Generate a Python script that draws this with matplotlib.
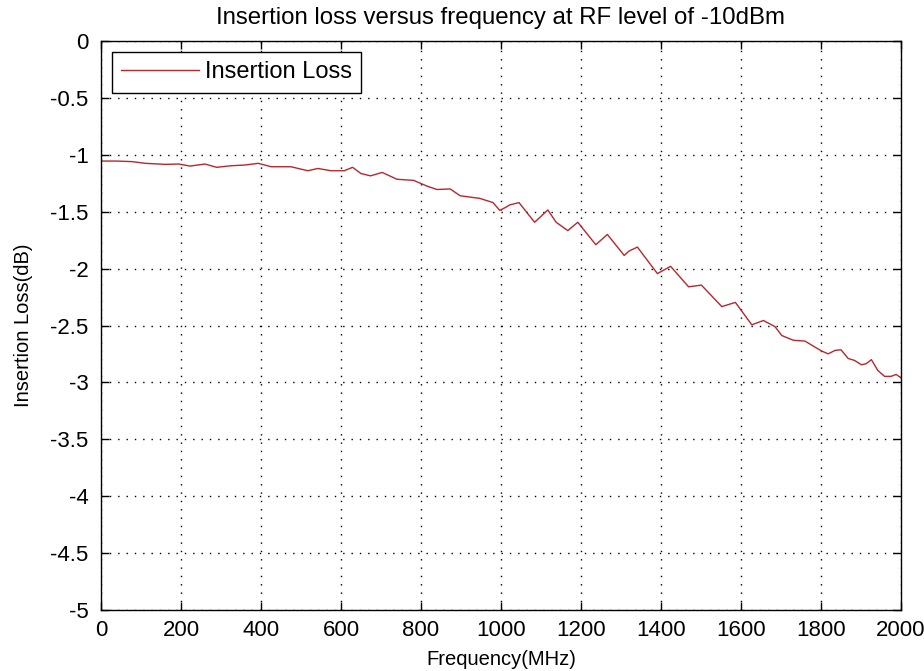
import matplotlib
matplotlib.use("Agg")
import matplotlib.pyplot as plt
from matplotlib import font_manager

# values
freq_mhz = [0, 40, 78, 111, 161, 194, 223, 260, 289, 326, 359, 393, 426, 475,
            517, 542, 575, 608, 629, 650, 674, 703, 740, 782, 815, 840, 873,
            898, 947, 980, 997, 1010, 1022, 1045, 1084, 1117, 1138, 1167, 1192,
            1237, 1266, 1308, 1320, 1341, 1391, 1424, 1469, 1501, 1552, 1586,
            1627, 1656, 1685, 1702, 1731, 1760, 1785, 1802, 1818, 1835, 1850,
            1868, 1884, 1901, 1913, 1926, 1942, 1959, 1975, 1988, 2000]
loss_db = [-1.055, -1.055, -1.06, -1.075, -1.084, -1.081, -1.099, -1.081, -1.11,
           -1.096, -1.09, -1.075, -1.105, -1.105, -1.14, -1.12, -1.14, -1.14,
           -1.11, -1.165, -1.185, -1.155, -1.215, -1.225, -1.275, -1.305, -1.30,
           -1.36, -1.383, -1.42, -1.488, -1.465, -1.44, -1.42, -1.593, -1.485,
           -1.593, -1.666, -1.593, -1.79, -1.70, -1.884, -1.846, -1.811, -2.044,
           -1.98, -2.16, -2.145, -2.334, -2.297, -2.494, -2.456, -2.51, -2.588,
           -2.63, -2.637, -2.69, -2.725, -2.749, -2.719, -2.713, -2.79, -2.807,
           -2.845, -2.836, -2.80, -2.895, -2.947, -2.947, -2.93, -2.96]

x_ticks = list(range(0, 2001, 200))
y_ticks = [0, -0.5, -1, -1.5, -2, -2.5, -3, -3.5, -4, -4.5, -5]
y_labels = ["0", "-0.5", "-1", "-1.5", "-2", "-2.5", "-3", "-3.5", "-4", "-4.5", "-5"]

names = {f.name for f in font_manager.fontManager.ttflist}
fam = [f for f in ["Liberation Sans Narrow", "Liberation Sans", "DejaVu Sans"] if f in names]
plt.rcParams['font.family'] = fam

fig = plt.figure(figsize=(9.24, 6.71), dpi=100)
ax = fig.add_axes([0.1093, 0.0909, 0.8658, 0.848])

ax.plot(freq_mhz, loss_db, color='#b8262e', lw=1.0, label='Insertion Loss')

ax.set_xlim(0, 2000)
ax.set_ylim(-5, 0)
ax.set_xticks(x_ticks)
ax.set_yticks(y_ticks)
ax.set_yticklabels(y_labels)
ax.grid(True, color='black', linestyle=(0, (1, 5)), linewidth=1.0)
ax.tick_params(direction='in', length=6, top=True, right=True, width=1,
               labelsize=16)
ax.tick_params(axis='x', pad=7.5)
ax.tick_params(axis='y', pad=9)
for s in ax.spines.values():
    s.set_linewidth(1)

ax.set_xlabel('Frequency(MHz)', fontsize=14.5, labelpad=6)
ax.set_ylabel('Insertion Loss(dB)', fontsize=14.5, labelpad=12)
ax.set_title('Insertion loss versus frequency at RF level of -10dBm',
             fontsize=17.3, pad=12)

leg = ax.legend(loc='upper left', fancybox=False, edgecolor='black', framealpha=1,
                fontsize=17, borderaxespad=0.45, handlelength=3.3,
                handletextpad=0.25, borderpad=0.4)
leg.get_frame().set_linewidth(1)

fig.savefig('out.png', dpi=100, facecolor='white')
